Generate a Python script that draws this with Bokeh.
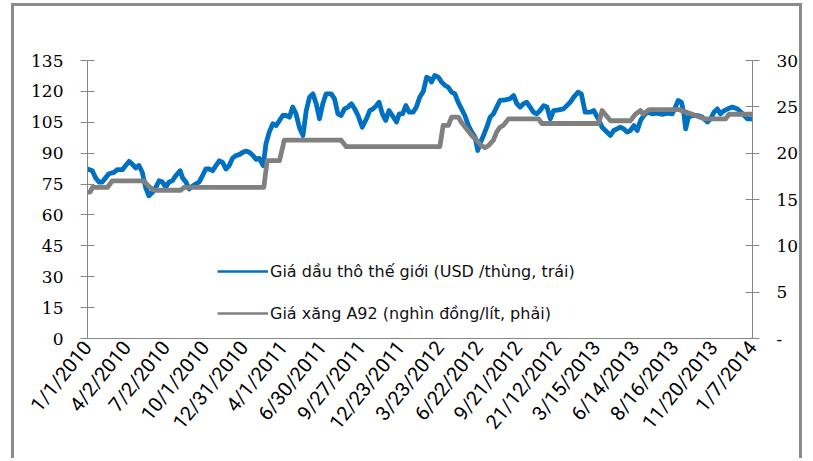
import math

from bokeh.core.properties import value
from bokeh.embed import file_html
from bokeh.models import FixedTicker, Legend, LegendItem, LinearAxis, Range1d
from bokeh.plotting import figure
from bokeh.resources import INLINE

# Category labels on the time axis (one label every 13 weekly observations)
tick_labels = [
    "1/1/2010", "4/2/2010", "7/2/2010", "10/1/2010", "12/31/2010",
    "4/1/2011", "6/30/2011", "9/27/2011", "12/23/2011", "3/23/2012",
    "6/22/2012", "9/21/2012", "21/12/2012", "3/15/2013", "6/14/2013",
    "8/16/2013", "11/20/2013", "1/7/2014",
]
WEEKS_PER_LABEL = 13

# World crude oil price, USD/barrel (left axis); x = week index
oil_week = [
    0, 1.6, 2.7, 3.8, 4.9, 6, 7.1, 8.8, 9.9, 11.6, 12.7, 13.8, 14.9, 16, 17.1,
    18.2, 19.3, 20.4, 21.6, 22.7, 23.8, 24.9, 26, 27.1, 28.2, 29.3, 30.8, 31.6,
    32.7, 33.8, 34.9, 36, 37.1, 38.2, 39.3, 40.4, 41.6, 42.7, 43.8, 44.9, 46,
    47.1, 48.2, 49.3, 50.4, 51.6, 52.7, 53.8, 54.9, 56, 57.1, 58.4, 59.3, 60.4,
    61.6, 62.7, 63.8, 64.9, 66, 67.1, 68.2, 69.3, 70.4, 71.6, 72.7, 73.8, 74.9,
    76, 77.1, 78.2, 79.3, 81, 82.1, 83.2, 84.3, 85.4, 86.6, 87.7, 88.8, 89.9,
    91.3, 92.7, 93.8, 94.9, 96, 96.9, 98, 99.1, 100.2, 101.3, 102.7, 103.6,
    104.7, 105.8, 106.9, 108.2, 109.3, 110.4, 111.6, 112.7, 113.8, 114.3,
    115.4, 116.6, 117.7, 118.8, 119.9, 121, 122.1, 123.2, 124.3, 125.4, 126.6,
    127.7, 128.8, 129.7, 130.4, 131.6, 132.7, 133.8, 134.9, 136, 137.1, 138.8,
    140.4, 141.6, 142.7, 143.8, 144.9, 146, 147.1, 148.2, 149.3, 150.4, 151.6,
    152.7, 153.8, 154.9, 156.6, 158.2, 159.3, 160.4, 161.6, 163, 164.1, 165.4,
    167.1, 168.2, 169.8, 171, 172.1, 173.8, 174.9, 176, 177.1, 178.2, 179.3,
    180.4, 181.6, 182.7, 183.8, 184.9, 186, 187.7, 189.3, 191, 192.7, 194.3,
    195.4, 196.3, 197.4, 198.2, 198.8, 199.7, 201, 202.7, 204.3, 206, 207.1,
    208.2, 209.3, 210.4, 211.6, 212.7, 214.3, 216, 217.7, 219.3, 220.4, 221,
]
oil_usd = [
    82.3, 81.5, 78, 76, 76, 78, 80, 80.7, 82, 82, 84, 86, 84.7, 82.8, 84,
    80.7, 73.4, 69.3, 71, 73.4, 76.6, 76, 73.4, 76, 76.6, 79, 81.5, 78,
    76, 72.6, 74, 75, 76, 79, 82.3, 82.3, 81.5, 84, 86.3, 85.5, 82.3,
    84, 87.6, 88.8, 89.3, 90.4, 91, 90.4, 89, 87, 87.5, 84, 94.5, 100.2,
    104.3, 103.4, 105.9, 108.3, 108.3, 107.5, 112.4, 109.1, 102.6, 98.6, 110.7, 117.2, 118.8,
    114, 106.7, 114, 118.8, 118.8, 116.4, 109.1, 108.3, 111.5, 112.4, 114, 111.5, 108.3,
    102.6, 106.7, 110.7, 111.5, 113.1, 114.7, 109.1, 105.9, 110.7, 108.3, 105.1, 109.1,
    109.1, 113.1, 109.9, 109.9, 112.4, 117.2, 120, 126.9, 126.1, 124.5,
    127.7, 126.9, 124.5, 122.9, 122, 119.6, 118.8, 114.7, 111.5, 108.3, 103.4,
    100.2, 97.7, 91.3, 94.5, 98.6, 102.6, 107.5, 109.1, 112.4, 115.6, 115.9,
    116.4, 118, 114, 112.4, 114, 114.7, 112.4, 109.9, 109.1, 110.7, 113.1,
    112.4, 106.7, 110.7, 111, 111.5, 113.1, 114.7, 117.2, 119.6, 118.8, 109.9,
    109.9, 110.7, 106.5, 102.6, 101, 98.6, 101, 101.8, 102.6, 101.8, 100.2,
    101, 103.4, 101, 105.9, 108.3, 109.9, 109.1, 109.4, 108.8, 109.4, 109.1,
    112.4, 115.6, 114.7, 109.1, 101.8, 107.5, 108.3, 108.3, 107.5, 105.1, 106.7,
    109.9, 111.5, 109.1, 110.7, 111.5, 112.4, 111.5, 109.1, 106.7, 106.7, 106.5,
]

# Domestic A92 petrol price, thousand VND/litre (right axis); x = week index
a92_week = [
    0, 0.9, 1.6, 6.6, 8.2, 18.8, 20.4, 22.1, 31, 32.1, 58.6, 59.7, 63.8, 65.4,
    84.3, 86, 117.1, 118.2, 119.9, 121, 123.2, 124.3, 126, 127.7, 129.3, 131,
    132.1, 133.2, 134.9, 136, 137.1, 138.2, 139.9, 149.9, 151, 169.9, 171,
    173.8, 180.4, 182.1, 183.8, 184.6, 186.6, 196.6, 201, 204.9, 212.1, 213.2,
    221,
]
a92_kvnd = [
    15.8, 15.8, 16.3, 16.3, 17.0, 17.0, 16.4, 16.0, 16.0, 16.3, 16.3, 19.2, 19.2, 21.4,
    21.4, 20.7, 20.7, 23.0, 23.0, 23.9, 23.9, 23.3, 22.6, 21.9, 21.4, 20.8,
    20.6, 20.8, 21.4, 22.3, 22.8, 23.0, 23.7, 23.7, 23.2, 23.2, 24.6,
    23.5, 23.5, 24.2, 24.6, 24.2, 24.7, 24.7, 24.2, 23.7, 23.7, 24.2,
    24.2,
]

left_ticks = list(range(0, 136, 15))
right_ticks = list(range(0, 31, 5))

oil_label = "Giá dầu thô thế giới (USD /thùng, trái)"
a92_label = "Giá xăng A92 (nghìn đồng/lít, phải)"

BLUE = "#0070C0"
GREY = "#808080"
AXIS = "#868686"
FRAME = "#8c8c8c"

n_weeks = WEEKS_PER_LABEL * (len(tick_labels) - 1)

p = figure(
    width=791, height=455,
    margin=(3, 0, 0, 11),
    styles={
        "border-top": f"3px solid {FRAME}",
        "border-left": f"3px solid {FRAME}",
        "border-right": f"3px solid {FRAME}",
    },
    output_backend="svg", toolbar_location=None,
    x_range=Range1d(0, n_weeks), y_range=Range1d(0, 135),
    min_border_left=73, min_border_right=53,
    min_border_top=54, min_border_bottom=123,
)
p.extra_y_ranges = {"right": Range1d(0, 30)}
p.outline_line_color = None
p.xgrid.visible = False
p.ygrid.visible = False
p.background_fill_color = "white"
p.border_fill_color = "white"

# Left axis
p.yaxis.ticker = FixedTicker(ticks=left_ticks)
# Right axis
right_axis = LinearAxis(
    y_range_name="right",
    ticker=FixedTicker(ticks=right_ticks),
    major_label_overrides={0: "-"},
)
p.add_layout(right_axis, "right")

for ax in (p.yaxis[0], right_axis):
    ax.axis_line_color = AXIS
    ax.major_tick_line_color = AXIS
    ax.major_tick_in = 7
    ax.major_tick_out = 7
    ax.minor_tick_line_color = None
    ax.major_label_text_font = "DejaVu Serif"
    ax.major_label_text_font_size = "17px"
    ax.major_label_text_color = "black"
    ax.major_label_standoff = 17

# Bottom (time) axis
tick_pos = [k * WEEKS_PER_LABEL for k in range(len(tick_labels))]
p.xaxis.ticker = FixedTicker(ticks=tick_pos)
p.xaxis.major_label_overrides = dict(zip(tick_pos, tick_labels))
p.xaxis.major_label_orientation = math.radians(51)
p.xaxis.axis_line_color = AXIS
p.xaxis.major_tick_line_color = None
p.xaxis.major_tick_in = 0
p.xaxis.major_tick_out = 0
p.xaxis.minor_tick_line_color = None
p.xaxis.major_label_text_font = "Roboto"
p.xaxis.major_label_text_font_size = "20px"
p.xaxis.major_label_text_color = "black"
p.xaxis.major_label_standoff = 5

# Series
p.line(oil_week, oil_usd, line_color=BLUE, line_width=4.8,
       line_join="round", line_cap="round")
p.line(a92_week, a92_kvnd, line_color=GREY, line_width=4.8,
       line_join="round", line_cap="round", y_range_name="right")

# Legend swatches (thinner than the series lines; no data of their own)
key_oil = p.line([math.nan], [math.nan], line_color=BLUE, line_width=2.5)
key_a92 = p.line([math.nan], [math.nan], line_color=GREY, line_width=2.5)
legend = Legend(
    items=[
        LegendItem(label=oil_label, renderers=[key_oil]),
        LegendItem(label=a92_label, renderers=[key_a92]),
    ],
    location=(130, 15),
    orientation="vertical",
    glyph_width=51, glyph_height=20, label_height=20,
    spacing=22, padding=0, margin=0, label_standoff=2,
    border_line_color=None, background_fill_alpha=0,
    label_text_font="DejaVu Sans", label_text_font_size="16px",
    label_text_color="#111111",
)
p.add_layout(legend)

open("out.html", "w").write(file_html(p, INLINE))
